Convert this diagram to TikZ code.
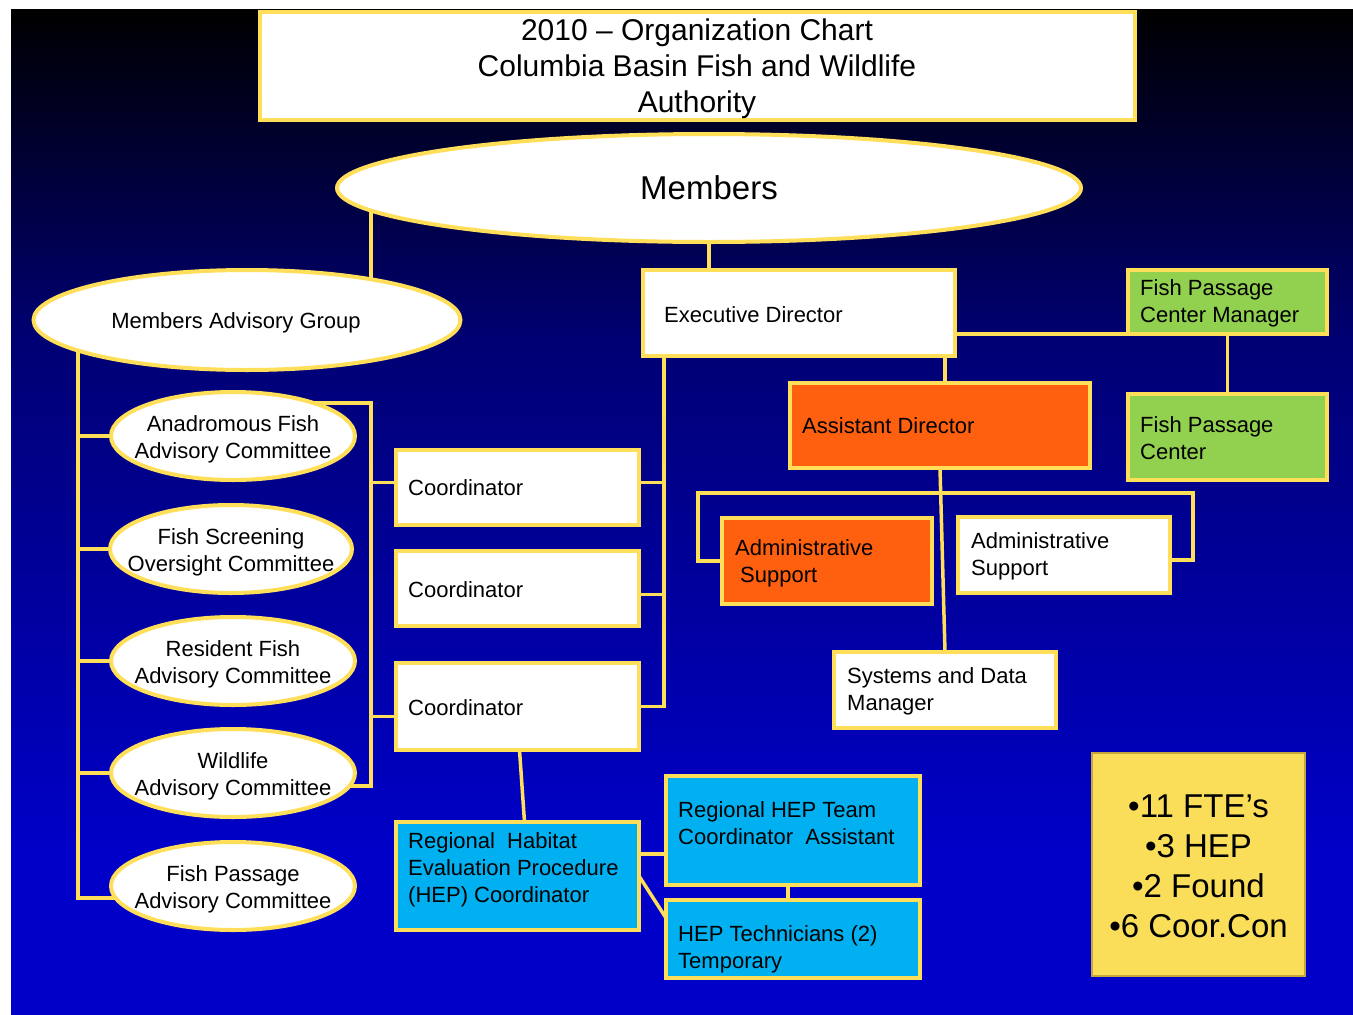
\documentclass[tikz,border=0pt]{standalone}
\usepackage{fontspec}
\setmainfont{Liberation Sans}
\usetikzlibrary{shapes.geometric,calc}
\pgfdeclarelayer{background}
\pgfsetlayers{background,main}
\definecolor{bord}{RGB}{255,222,89}
\definecolor{bgmid}{RGB}{0,0,115}
\definecolor{bgblue}{RGB}{0,0,200}
\definecolor{hgreen}{RGB}{146,208,80}
\definecolor{horange}{RGB}{255,96,16}
\definecolor{hcyan}{RGB}{0,176,240}
\definecolor{noteyel}{RGB}{250,222,90}
\definecolor{notebord}{RGB}{196,168,60}
\newcommand{\mysz}{\fontsize{22}{27}\selectfont}
\begin{document}
\begin{tikzpicture}[x=1pt,y=-1pt,
  box/.style={draw=bord,line width=4.5pt,rectangle,inner sep=0pt,outer sep=0pt,anchor=north west},
  oval/.style={draw=bord,line width=4pt,ellipse,fill=white,inner sep=0pt,outer sep=0pt,align=center,font=\mysz},
  ovtxt/.style={align=center,font=\mysz,yshift=-3pt},
  txt/.style={anchor=west,align=left,inner sep=0pt,font=\mysz},
  link/.style={draw=bord,line width=3.5pt}]
\useasboundingbox (0,0) rectangle (1353,1015);

% title
\node[box,fill=white,minimum width=875pt,minimum height=108pt] (title) at (260,12) {};
\node[align=center,inner sep=0pt,font=\fontsize{30}{36}\selectfont] (titlet) at (697,69) {2010 – Organization Chart\\Columbia Basin Fish and Wildlife\\Authority};

% ellipses
\node[oval,minimum width=744pt,minimum height=108pt,font=\fontsize{33}{40}\selectfont] (members) at (709,188) {Members};
\node[oval,minimum width=427pt,minimum height=100pt,label={[ovtxt,xshift=-11pt]center:Members Advisory Group}] (MAG) at (247,320) {};
\node[oval,minimum width=244pt,minimum height=88pt,label={[ovtxt]center:{Anadromous Fish\\Advisory Committee}}] (com1) at (233,436) {};
\node[oval,minimum width=242pt,minimum height=88pt,label={[ovtxt]center:{Fish Screening\\Oversight Committee}}] (com2) at (231,549) {};
\node[oval,minimum width=244pt,minimum height=88pt,label={[ovtxt]center:{Resident Fish\\Advisory Committee}}] (com3) at (233,661) {};
\node[oval,minimum width=244pt,minimum height=88pt,label={[ovtxt]center:{Wildlife\\Advisory Committee}}] (com4) at (233,773) {};
\node[oval,minimum width=244pt,minimum height=88pt,label={[ovtxt]center:{Fish Passage\\Advisory Committee}}] (com5) at (233,886) {};

% boxes
\node[box,fill=white,minimum width=312pt,minimum height=86pt] (ED) at (643,270) {};
\node[txt] (EDt) at (664,315) {Executive Director};
\node[box,fill=hgreen,minimum width=199pt,minimum height=64pt] (FPCM) at (1128,270) {};
\node[txt] (FPCMt) at (1140,303.5) {Fish Passage\\Center Manager};
\node[box,fill=hgreen,minimum width=199pt,minimum height=86pt] (FPC) at (1128,394) {};
\node[txt] (FPCt) at (1140,438.5) {Fish Passage\\Center};
\node[box,fill=horange,minimum width=300pt,minimum height=85pt] (AD) at (790,383) {};
\node[txt] (ADt) at (802,426) {Assistant Director};
\node[box,fill=horange,minimum width=210pt,minimum height=86pt] (adm1) at (722,518) {};
\node[txt] (adm1t) at (735,563) {Administrative\\\hspace*{5pt}Support};
\node[box,fill=white,minimum width=212pt,minimum height=76pt] (adm2) at (958,517) {};
\node[txt] (adm2t) at (971,556.5) {Administrative\\Support};
\node[box,fill=white,minimum width=222pt,minimum height=76pt] (sys) at (834,652) {};
\node[txt] (syst) at (847,691.5) {Systems and Data\\Manager};
\node[box,fill=white,minimum width=243pt,minimum height=75pt] (c1) at (396,450) {};
\node[txt] (c1t) at (408,488) {Coordinator};
\node[box,fill=white,minimum width=243pt,minimum height=75pt] (c2) at (396,551) {};
\node[txt] (c2t) at (408,590) {Coordinator};
\node[box,fill=white,minimum width=243pt,minimum height=87pt] (c3) at (396,663) {};
\node[txt] (c3t) at (408,708) {Coordinator};
\node[box,fill=hcyan,minimum width=243pt,minimum height=108pt] (hep1) at (396,822) {};
\node[txt] (hep1t) at (408,870) {Regional\ \ Habitat\\Evaluation Procedure\\(HEP) Coordinator};
\node[box,fill=hcyan,minimum width=254pt,minimum height=109pt] (hep2) at (666,776) {};
\node[txt] (hep2t) at (678,823.5) {Regional HEP Team\\Coordinator\ \ Assistant};
\node[box,fill=hcyan,minimum width=254pt,minimum height=78pt] (hep3) at (666,900) {};
\node[txt] (hep3t) at (678,949) {HEP Technicians (2)\\Temporary};

% note
\node[draw=notebord,line width=2pt,fill=noteyel,anchor=north west,outer sep=0pt,minimum width=213pt,minimum height=223pt,inner sep=0pt] (note) at (1092,753) {};
\node[align=center,inner sep=0pt,font=\fontsize{33}{40}\selectfont] (notet) at (1198.5,866.5) {•11 FTE’s\\•3 HEP\\•2 Found\\•6 Coor.Con};

\begin{pgfonlayer}{background}
\fill[white] (0,0) rectangle (1353,1015);
\shade[top color=black,bottom color=bgmid] (11,9) rectangle (1353,341);
\shade[top color=bgmid,bottom color=bgblue] (11,340) rectangle (1353,851);
\fill[bgblue] (11,850) rectangle (1353,1015);

\draw[link] (members.south) -- (members.south |- ED.north);
\coordinate (j1) at (371,0);
\draw[link] (j1 |- members.center) -- (j1 |- MAG.center);
\draw[link] (FPCM.south west) -- (FPCM.south west -| ED.east);
\draw[link] (FPCM.south) -- (FPC.north);
\coordinate (eda) at ($(ED.south east)+(-10,0)$);
\draw[link] (eda) -- (eda |- AD.north);
\draw[link] (AD.south) -- (sys.north);
% admin bracket
\coordinate (brL) at ($(adm1.west)+(-24,0)$);
\coordinate (brR) at ($(adm2.east)+(23,5)$);
\coordinate (brT) at (0,493);
\draw[link] (adm1.west) -- (brL) -- (brL |- brT) -- (brR |- brT) -- (brR) -- (brR -| adm2.east);
% coordinators to ED
\coordinate (edl) at ($(ED.south west)+(21,0)$);
\draw[link] (edl) |- (c3.east);
\coordinate (c1r) at ($(c1.east)+(0,-5)$);
\draw[link] (c1r) -- (c1r -| edl);
\coordinate (c2r) at ($(c2.east)+(0,6)$);
\draw[link] (c2r) -- (c2r -| edl);
% committee bracket
\coordinate (cbx) at (371,0);
\coordinate (cbt) at ($(com1.center)+(0,-33)$);
\coordinate (cbb) at ($(com4.center)+(0,13)$);
\draw[link] (cbt) -- (cbt -| cbx) -- (cbb -| cbx) -- (cbb);
\coordinate (c1l) at ($(c1.west)+(0,-5)$);
\draw[link] (c1l) -- (c1l -| cbx);
\coordinate (c3l) at ($(c3.west)+(0,10)$);
\draw[link] (c3l) -- (c3l -| cbx);
% MAG bracket
\coordinate (mbx) at (78,0);
\coordinate (mbb) at ($(com5.center)+(0,12)$);
\draw[link] (mbx |- MAG.center) -- (mbb -| mbx) -- (mbb);
\foreach \c in {com1,com2,com3,com4} \draw[link] (mbx |- \c.center) -- (\c.center);
% HEP
\draw[link] ($(c3.south)+(2,0)$) -- ($(hep1.north)+(7,0)$);
\coordinate (h1a) at ($(hep1.east)+(0,-22)$);
\draw[link] (h1a) -- (h1a -| hep2.west);
\draw[link] (hep1.east) -- ($(hep3.west)+(0,-21)$);
\draw[link] ($(hep2.south)+(-5,0)$) -- ($(hep3.north)+(-5,0)$);
\end{pgfonlayer}
\end{tikzpicture}
\end{document}
